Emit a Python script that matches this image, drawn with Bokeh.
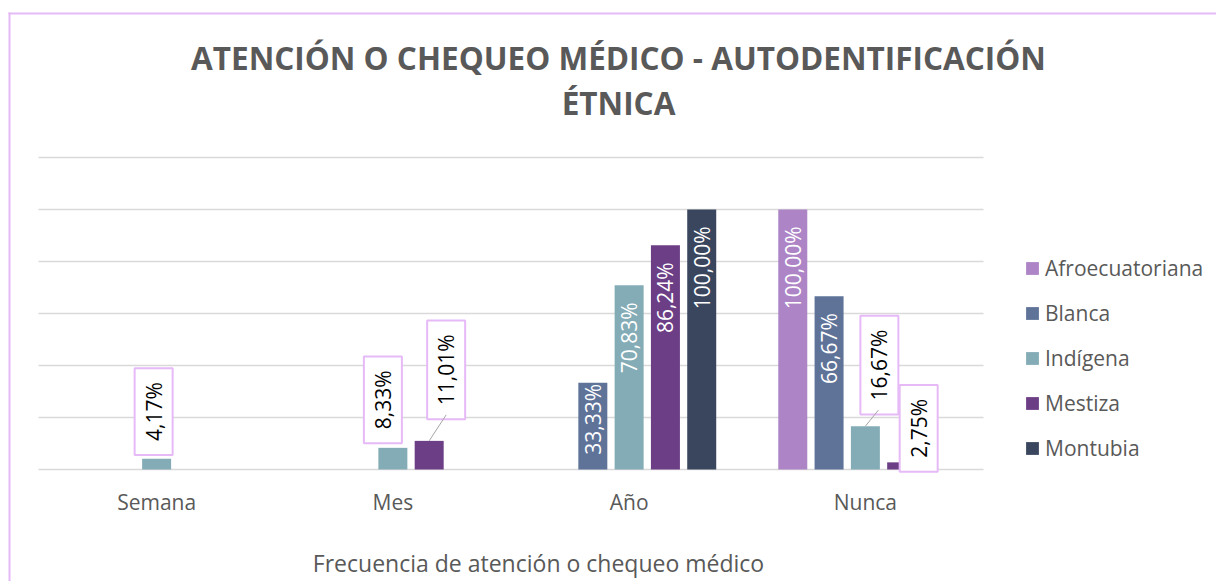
import math
from bokeh.plotting import figure
from bokeh.models import (ColumnDataSource, Range1d, Legend, LegendItem, Label, BoxAnnotation)
from bokeh.core.properties import value
from bokeh.embed import file_html
from bokeh.resources import INLINE

# ---------------- data ----------------
title_lines = ["ATENCIÓN O CHEQUEO MÉDICO - AUTODENTIFICACIÓN", "ÉTNICA"]
x_title = "Frecuencia de atención o chequeo médico"
categories = ["Semana", "Mes", "Año", "Nunca"]
series = ["Afroecuatoriana", "Blanca", "Indígena", "Mestiza", "Montubia"]
afroecuatoriana = [0.00, 0.00, 0.00, 100.00]
blanca = [0.00, 0.00, 33.33, 66.67]
indigena = [4.17, 8.33, 70.83, 16.67]
mestiza = [0.00, 11.01, 86.24, 2.75]
montubia = [0.00, 0.00, 100.00, 0.00]
grid_ticks = [0, 20, 40, 60, 80, 100, 120]

# ---------------- styles / layout ----------------
colors = ["#AD84C6", "#5F7399", "#84ACB6", "#6C3E86", "#3A465E"]
FONT = "Open Sans"
GREY = "#595959"
PINK = "#E6B9F7"
W, H = 1216, 581
PLOT_L, PLOT_R, PLOT_T, PLOT_B = 38, 983, 157, 469     # plot area in canvas px
px_per_cat = (PLOT_R - PLOT_L) / len(categories)
pct_per_px = (grid_ticks[-1] - grid_ticks[0]) / (PLOT_B - PLOT_T)
pitch = 36.3 / px_per_cat
bar_w = 29.0 / px_per_cat
offsets = [(i - 2) * pitch for i in range(len(series))]
centers = [i + 0.5 for i in range(len(categories))]

# callout label offsets (px, relative to bar top centre) and leader lines
callouts = {("Indígena", "Semana"): (-3, -47), ("Indígena", "Mes"): (-10, -48),
            ("Mestiza", "Mes"): (17, -71), ("Indígena", "Nunca"): (14, -61),
            ("Mestiza", "Nunca"): (17, -34)}
leaders = {("Mestiza", "Mes"): (17, -26), ("Indígena", "Nunca"): (13, -16)}
inside_gap = {("Blanca", "Año"): 1}
default_gap = 17

values_by_series = [afroecuatoriana, blanca, indigena, mestiza, montubia]

def fmt(v):
    return f"{v:.2f}".replace(".", ",") + "%"

x_range = Range1d(-PLOT_L / px_per_cat, (W - PLOT_L) / px_per_cat)
y_range = Range1d(grid_ticks[0] - (H - PLOT_B) * pct_per_px,
                  grid_ticks[-1] + PLOT_T * pct_per_px)

p = figure(width=W, height=H, x_range=x_range, y_range=y_range,
           output_backend="svg", toolbar_location=None,
           x_axis_location=None, y_axis_location=None,
           min_border=0, outline_line_color=None,
           background_fill_color="white", border_fill_color="white")
p.grid.visible = False
for g in list(p.center):
    if g.__class__.__name__ == "Grid":
        g.visible = False

# horizontal gridlines across the category span
n = len(categories)
p.segment(x0=[0] * len(grid_ticks), x1=[n] * len(grid_ticks), y0=grid_ticks, y1=grid_ticks,
          line_color="#D9D9D9", line_width=1.5)

# category labels
p.text(x=centers, y=[0] * n, text=categories, y_offset=32, text_align="center",
       text_baseline="middle", text_color=GREY, text_font=value(FONT), text_font_size="21px")

legend_items = []
for i, (name, vals) in enumerate(zip(series, values_by_series)):
    xs = [c + offsets[i] for c in centers]
    src = ColumnDataSource(dict(x=xs, cat=categories, val=vals))
    r = p.vbar(x="x", top="val", width=bar_w, source=src,
               fill_color=colors[i], line_color=None)
    legend_items.append(LegendItem(label=name, renderers=[r]))

    ix, iv, it, iy = [], [], [], []
    cx_, cv, ct, cxo, cyo = [], [], [], [], []
    for x, c, v in zip(xs, categories, vals):
        if v <= 0:
            continue
        if (name, c) in callouts:
            dx, dy = callouts[(name, c)]
            cx_.append(x); cv.append(v); ct.append(fmt(v)); cxo.append(dx); cyo.append(dy)
        else:
            ix.append(x); iv.append(v); it.append(fmt(v))
            iy.append(inside_gap.get((name, c), default_gap))
    if ix:
        p.text(x="x", y="val", text="txt", y_offset="yo",
               source=ColumnDataSource(dict(x=ix, val=iv, txt=it, yo=iy)),
               angle=math.pi / 2, text_align="right", text_baseline="middle",
               text_color="white", text_font=value(FONT), text_font_size="21px")
    if cx_:
        p.text(x="x", y="val", text="txt", x_offset="xo", y_offset="yo",
               source=ColumnDataSource(dict(x=cx_, val=cv, txt=ct, xo=cxo, yo=cyo)),
               angle=math.pi / 2, text_align="center", text_baseline="middle",
               text_color="#000000", text_font=value(FONT), text_font_size="21px",
               background_fill_color="white", border_line_color=PINK,
               border_line_width=2,
               padding=dict(left=14, right=14, top=5, bottom=5))

# leader lines
for (name, c), (dx, dy) in leaders.items():
    i = series.index(name)
    j = categories.index(c)
    v = values_by_series[i][j]
    x0 = centers[j] + offsets[i]
    p.segment(x0=[x0], y0=[v], x1=[x0 + dx / px_per_cat], y1=[v - dy * pct_per_px],
              line_color="#A6A6A6", line_width=1)

legend = Legend(items=legend_items, location=(1024, H - 462), orientation="vertical",
                glyph_width=16, glyph_height=16, label_height=29, spacing=16,
                label_standoff=5, padding=0, margin=0, border_line_color=None,
                background_fill_alpha=0, label_text_font=FONT,
                label_text_font_size="21px", label_text_color=GREY)
p.add_layout(legend)

# titles
p.add_layout(Label(x=618, y=57, x_units="canvas", y_units="canvas", text=title_lines[0],
                   text_align="center", text_baseline="middle", text_font=FONT,
                   text_font_size="31.5px", text_font_style="bold", text_color=GREY))
p.add_layout(Label(x=618, y=102, x_units="canvas", y_units="canvas", text=title_lines[1],
                   text_align="center", text_baseline="middle", text_font=FONT,
                   text_font_size="31.5px", text_font_style="bold", text_color=GREY))
p.add_layout(Label(x=538, y=562, x_units="canvas", y_units="canvas", text=x_title,
                   text_align="center", text_baseline="middle", text_font=FONT,
                   text_font_size="23px", text_color=GREY))

# chart-area border (top and left edges visible)
p.add_layout(BoxAnnotation(left=8, right=W, top=12, bottom=14, left_units="canvas",
                           right_units="canvas", top_units="canvas", bottom_units="canvas",
                           fill_color=PINK, fill_alpha=1, line_color=None))
p.add_layout(BoxAnnotation(left=8, right=10, top=12, bottom=H, left_units="canvas",
                           right_units="canvas", top_units="canvas", bottom_units="canvas",
                           fill_color=PINK, fill_alpha=1, line_color=None))

open("out.html", "w").write(file_html(p, INLINE))
